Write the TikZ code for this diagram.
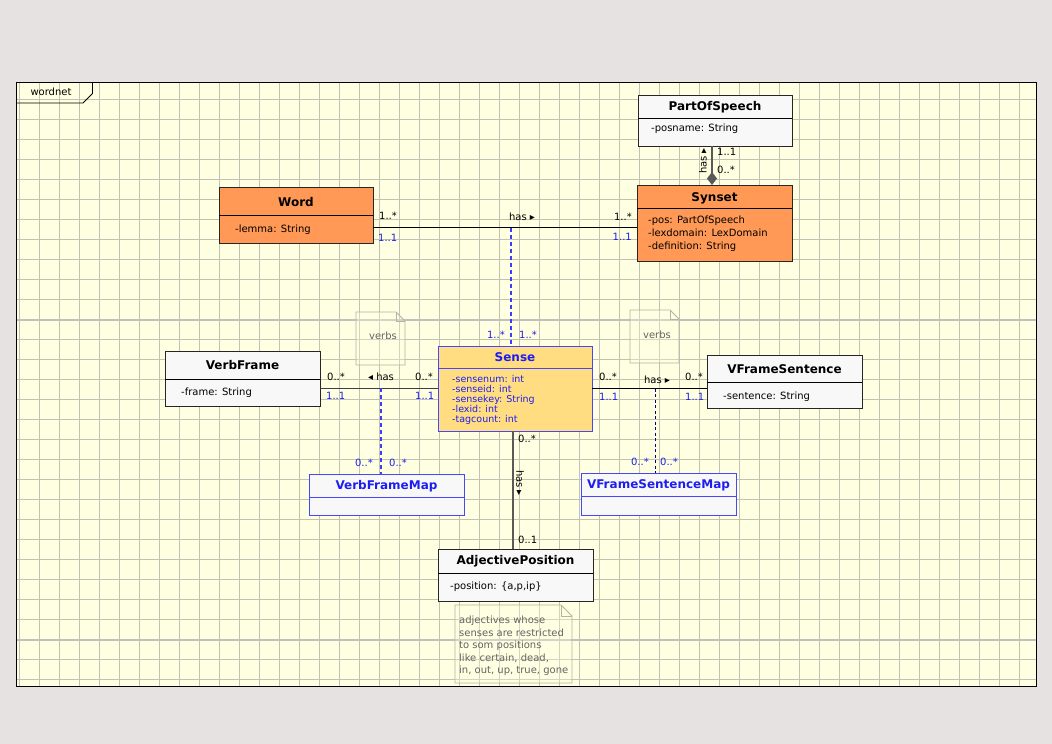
\documentclass[tikz,border=0pt]{standalone}
\usepackage{fontspec}
\setmainfont{DejaVu Sans}
\usetikzlibrary{arrows.meta}
\definecolor{pagebg}{RGB}{231,226,226}
\definecolor{paper}{RGB}{255,255,226}
\definecolor{gridc}{RGB}{194,194,180}
\definecolor{pagebreak}{RGB}{192,192,192}
\definecolor{orangefill}{RGB}{255,153,85}
\definecolor{sensefill}{RGB}{255,221,128}
\definecolor{classfill}{RGB}{248,248,248}
\definecolor{umlblue}{RGB}{30,30,240}
\definecolor{boxblue}{RGB}{70,70,255}
\definecolor{dashblue}{RGB}{60,60,255}
\definecolor{noteline}{RGB}{180,180,165}
\definecolor{notetext}{RGB}{100,100,100}
\begin{document}
\begin{tikzpicture}[x=1pt,y=-1pt,
  cls/.style={draw=black!85, line width=0.9pt, inner sep=0pt, outer sep=0pt, anchor=north west, fill=classfill},
  bluecls/.style={cls, draw=boxblue},
  divider/.style={line width=0.9pt},
  titl/.style={inner sep=0pt, anchor=base, font=\fontsize{12}{14}\selectfont\bfseries},
  attr/.style={inner sep=0pt, anchor=base west, font=\fontsize{10}{12}\selectfont},
  sattr/.style={attr, font=\fontsize{9.5}{11}\selectfont, text=umlblue},
  lbl/.style={inner sep=0pt, font=\fontsize{10}{12}\selectfont},
  bl/.style={lbl, text=umlblue},
  assoc/.style={line width=0.9pt, draw=black},
  assocg/.style={line width=1.3pt, draw=black!65},
  aclass/.style={line width=1.15pt, draw=dashblue, dash pattern=on 4pt off 3pt},
  notebox/.style={draw=noteline, line width=0.8pt, fill=paper, fill opacity=0.3},
  notetxt/.style={inner sep=0pt, anchor=base west, text=notetext, font=\fontsize{10}{12.5}\selectfont}
]
% page and frame
\fill[pagebg] (0,0) rectangle (1052,744);
\useasboundingbox (0,0) rectangle (1052,744);
\fill[paper] (16,82) rectangle (1036,686);
\foreach \i in {0,...,50}
  \draw[gridc, line width=1pt] ({19.5+20*\i},82) -- ({19.5+20*\i},686);
\foreach \i in {0,...,29}
  \draw[gridc, line width=1pt] (16,{99.5+20*\i}) -- (1036,{99.5+20*\i});
\draw[pagebreak, line width=2pt] (16,320) -- (1036,320);
\draw[pagebreak, line width=2pt] (16,640) -- (1036,640);
\draw[black, line width=1pt] (16,82) rectangle (1036,686);
% package tab
\draw[black, line width=0.9pt] (92.5,82) -- (92.5,93.5) -- (83,103) -- (16,103);
\node[lbl] (pkg) at (51,91.5) {wordnet};

% notes
\draw[notebox] (356,312) -- (396,312) -- (405,321) -- (405,365) -- (356,365) -- cycle;
\draw[noteline, line width=0.8pt] (396,312) -- (396,321) -- (405,321);
\node[lbl, text=notetext] (note1) at (383,336) {verbs};
\draw[notebox] (630,310) -- (670,310) -- (679,319) -- (679,363) -- (630,363) -- cycle;
\draw[noteline, line width=0.8pt] (670,310) -- (670,319) -- (679,319);
\node[lbl, text=notetext] (note2) at (657,335) {verbs};
\draw[notebox] (455,605) -- (561,605) -- (572,616) -- (572,683) -- (455,683) -- cycle;
\draw[noteline, line width=0.8pt] (561,605) -- (561,616) -- (572,616);
\node[notetxt] (note3a) at (459,623.6) {adjectives whose};
\node[notetxt] (note3b) at (459,636.1) {senses are restricted};
\node[notetxt] (note3c) at (459,648.6) {to som positions};
\node[notetxt] (note3d) at (459,661.1) {like certain, dead,};
\node[notetxt] (note3e) at (459,673.6) {in, out, up, true, gone};

% classes
\node[cls, minimum width=154, minimum height=51] (pos) at (638,95) {};
\draw[divider] (pos.west |- 0,118) -- (pos.east |- 0,118);
\node[titl] (posT) at (pos.north |- 0,110) {PartOfSpeech};
\node[attr] (posA) at (651,131.6) {-posname: String};

\node[cls, fill=orangefill, minimum width=155, minimum height=76] (syn) at (637,185) {};
\draw[divider] (syn.west |- 0,208) -- (syn.east |- 0,208);
\node[titl] (synT) at (syn.north |- 0,201) {Synset};
\node[attr] (synA1) at (648,223.6) {-pos: PartOfSpeech};
\node[attr] (synA2) at (648,236.6) {-lexdomain: LexDomain};
\node[attr] (synA3) at (648,249.6) {-definition: String};

\node[cls, fill=orangefill, minimum width=154, minimum height=56] (word) at (219,187) {};
\draw[divider] (word.west |- 0,215) -- (word.east |- 0,215);
\node[titl] (wordT) at (word.north |- 0,206.5) {Word};
\node[attr] (wordA) at (235,232.6) {-lemma: String};

\node[bluecls, fill=sensefill, minimum width=154, minimum height=85] (sense) at (438,346) {};
\draw[divider, boxblue] (sense.west |- 0,368) -- (sense.east |- 0,368);
\node[titl, text=umlblue] (senseT) at (sense.north |- 0,361.5) {Sense};
\node[sattr] (senseA1) at (452,382.4) {-sensenum: int};
\node[sattr] (senseA2) at (452,392.4) {-senseid: int};
\node[sattr] (senseA3) at (452,402.4) {-sensekey: String};
\node[sattr] (senseA4) at (452,412.4) {-lexid: int};
\node[sattr] (senseA5) at (452,422.4) {-tagcount: int};

\node[cls, minimum width=155, minimum height=55] (vf) at (165,351) {};
\draw[divider] (vf.west |- 0,379) -- (vf.east |- 0,379);
\node[titl] (vfT) at (vf.north |- 0,369.5) {VerbFrame};
\node[attr] (vfA) at (181,395.6) {-frame: String};

\node[cls, minimum width=155, minimum height=53] (vfs) at (707,355) {};
\draw[divider] (vfs.west |- 0,382) -- (vfs.east |- 0,382);
\node[titl] (vfsT) at (vfs.north |- 0,373.5) {VFrameSentence};
\node[attr] (vfsA) at (723,399.6) {-sentence: String};

\node[bluecls, minimum width=155, minimum height=41] (vfm) at (309,474) {};
\draw[divider, boxblue] (vfm.west |- 0,497) -- (vfm.east |- 0,497);
\node[titl, text=umlblue] (vfmT) at (vfm.north |- 0,489.5) {VerbFrameMap};

\node[bluecls, minimum width=155, minimum height=42] (vfsm) at (581,473) {};
\draw[divider, boxblue] (vfsm.west |- 0,496) -- (vfsm.east |- 0,496);
\node[titl, text=umlblue] (vfsmT) at (vfsm.north |- 0,488) {VFrameSentenceMap};

\node[cls, minimum width=155, minimum height=52] (adj) at (438,549) {};
\draw[divider] (adj.west |- 0,573) -- (adj.east |- 0,573);
\node[titl] (adjT) at (adj.north |- 0,564.5) {AdjectivePosition};
\node[attr] (adjA) at (450,589.6) {-position: \{a,p,ip\}};

% Synset -- PartOfSpeech (composition)
\draw[assocg, -{Diamond[length=13pt,width=10pt]}] (pos.south -| 712,0) -- (syn.north -| 712,0);
\node[lbl, anchor=west] (m1) at (717,152) {1..1};
\node[lbl, anchor=west] (m2) at (717,170) {0..*};
\node[lbl, rotate=90] (h1) at (703,161) {has ▸};

% Word -- Synset, with association class Sense
\draw[assoc] (word.east |- 0,227.5) -- (syn.west |- 0,227.5);
\coordinate (wsmid) at (511,227.5);
\node[lbl, anchor=west] (m3) at (379,216) {1..*};
\node[bl, anchor=west] (m4) at (378,238) {1..1};
\node[lbl] (h2) at (522,217) {has ▸};
\node[lbl, anchor=east] (m5) at (632,217) {1..*};
\node[bl, anchor=east] (m6) at (632,237) {1..1};
\draw[aclass] (wsmid) -- (sense.north -| wsmid);
\node[bl, anchor=east] (m7) at (505,335) {1..*};
\node[bl, anchor=west] (m8) at (519,335) {1..*};

% VerbFrame -- Sense, with association class VerbFrameMap
\draw[assoc, draw=black!75] (vf.east |- 0,388) -- (sense.west |- 0,388);
\coordinate (vsmid) at (381,388);
\node[lbl, anchor=west] (m9) at (327,377) {0..*};
\node[lbl] (h3) at (381,377) {◂ has};
\node[lbl, anchor=west] (m10) at (415,377) {0..*};
\node[bl, anchor=west] (m11) at (326,396) {1..1};
\node[bl, anchor=west] (m12) at (415,396) {1..1};
\draw[aclass] (vsmid) -- (vfm.north -| vsmid);
\node[bl, anchor=east] (m13) at (373,463) {0..*};
\node[bl, anchor=west] (m14) at (389,463) {0..*};

% Sense -- VFrameSentence, with association class VFrameSentenceMap
\draw[assoc] (sense.east |- 0,388.5) -- (vfs.west |- 0,388.5);
\coordinate (svmid) at (655,388.5);
\node[lbl, anchor=west] (m15) at (599,377) {0..*};
\node[lbl] (h4) at (657,380) {has ▸};
\node[lbl, anchor=west] (m16) at (685,377) {0..*};
\node[bl, anchor=west] (m17) at (599,397) {1..1};
\node[bl, anchor=west] (m18) at (685,397) {1..1};
\draw[aclass, draw=blue!50!black, line width=1pt, dash pattern=on 3pt off 2.5pt] (svmid) -- (vfsm.north -| svmid);
\node[bl, anchor=east] (m19) at (649,462) {0..*};
\node[bl, anchor=west] (m20) at (660,462) {0..*};

% Sense -- AdjectivePosition
\draw[assocg] (sense.south -| 513,0) -- (adj.north -| 513,0);
\node[lbl, anchor=west] (m21) at (518,439) {0..*};
\node[lbl, rotate=-90] (h5) at (520,483) {has ▸};
\node[lbl, anchor=west] (m22) at (518,540) {0..1};
\end{tikzpicture}
\end{document}
